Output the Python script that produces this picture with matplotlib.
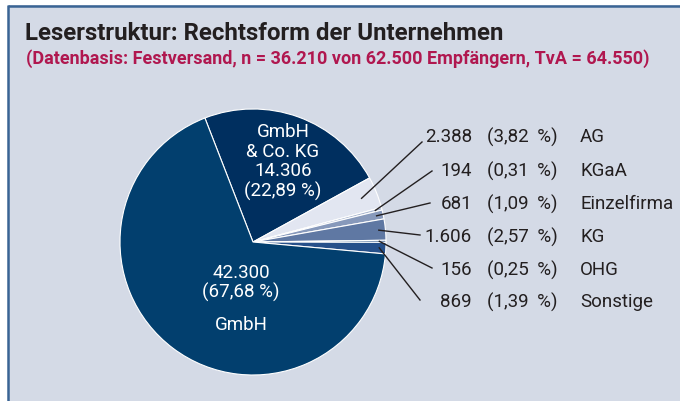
import matplotlib
matplotlib.use('Agg')
import matplotlib.pyplot as plt
from matplotlib.patches import Rectangle
import numpy as np

plt.rcParams['font.family'] = ['Roboto', 'DejaVu Sans']

# data
forms = ['GmbH\n& Co. KG', 'AG', 'KGaA', 'Einzelfirma', 'KG', 'OHG', 'Sonstige', 'GmbH']
counts = [14306, 2388, 194, 681, 1606, 156, 869, 42300]
colors = ['#002f5f', '#e2e6f1', '#a9b6cf', '#8799bb', '#5f78a3', '#2c5386', '#26508a', '#023f6e']
title = 'Leserstruktur: Rechtsform der Unternehmen'
subtitle = '(Datenbasis: Festversand, n = 36.210 von 62.500 Empfängern, TvA = 64.550)'

def de_int(v):
    return f'{v:,}'.replace(',', '.')

def de_pct(p):
    return f'({p:.2f} %)'.replace('.', ',')

W, H = 680, 401
fig = plt.figure(figsize=(W / 100, H / 100), dpi=100)
fig.patch.set_facecolor('white')

# panel background with blue border top/left
bg = fig.add_axes([0, 0, 1, 1])
bg.set_xlim(0, W); bg.set_ylim(H, 0); bg.axis('off')
bg.add_patch(Rectangle((8, 5), W - 8, H - 5, facecolor='#d4dae6', edgecolor='none'))
bg.plot([8, 8], [5, H], color='#3a6494', lw=1.8, solid_capstyle='butt')
bg.plot([8, W], [6, 6], color='#3a6494', lw=1.8, solid_capstyle='butt')

# pie
cx, cy, r = 253, 242, 133
ax = fig.add_axes([(cx - r) / W, (H - cy - r) / H, 2 * r / W, 2 * r / H])
total = sum(counts)
start = 111.2
wedges, _ = ax.pie(counts, colors=colors, startangle=start, counterclock=False,
                   wedgeprops=dict(edgecolor='white', linewidth=0.8))
ax.set_xlim(-1, 1); ax.set_ylim(-1, 1)
ax.set_aspect('equal')
ax.axis('off')

pcts = [c / total * 100 for c in counts]

# overlay for texts and leader lines
top = fig.add_axes([0, 0, 1, 1])
top.set_xlim(0, W); top.set_ylim(H, 0); top.axis('off')
top.patch.set_alpha(0)

top.text(25, 33, title, fontsize=17.3, fontweight='bold', color='#231f20', va='center', ha='left')
top.text(26, 59, subtitle, fontsize=13, fontweight='bold', color='#b0174f', va='center', ha='left')

# inside labels
top.text(283, 162, forms[0] + '\n' + de_int(counts[0]) + '\n' + de_pct(pcts[0]),
         ha='center', va='center', color='white', fontsize=13.5, linespacing=1.1)
top.text(241, 283, de_int(counts[7]) + '\n' + de_pct(pcts[7]),
         ha='center', va='center', color='white', fontsize=13.5, linespacing=1.1)
top.text(241, 325, forms[7], ha='center', va='center', color='white', fontsize=13.5)

# outside labels with leader lines
row_y = [137, 171, 204, 237, 270, 302]
line_end = [(422, 142), (432, 171), (430, 203), (420, 235), (432, 268), (420, 300)]
for i, k in enumerate(range(1, 7)):
    w = wedges[k]
    mid = np.deg2rad((w.theta1 + w.theta2) / 2)
    f = 0.88 if k == 1 else 0.95
    px = cx + f * r * np.cos(mid)
    py = cy - f * r * np.sin(mid)
    top.plot([px, line_end[i][0]], [py, line_end[i][1]], color='#231f20', lw=1)
    y = row_y[i]
    top.text(472, y, de_int(counts[k]), ha='right', va='center', fontsize=13.5, color='#231f20')
    top.text(487, y, de_pct(pcts[k]).replace(' %', ' \u2009%'), ha='left', va='center', fontsize=13.5, color='#231f20')
    top.text(580, y, forms[k], ha='left', va='center', fontsize=13.5, color='#231f20')

fig.savefig('out.png', dpi=100)
